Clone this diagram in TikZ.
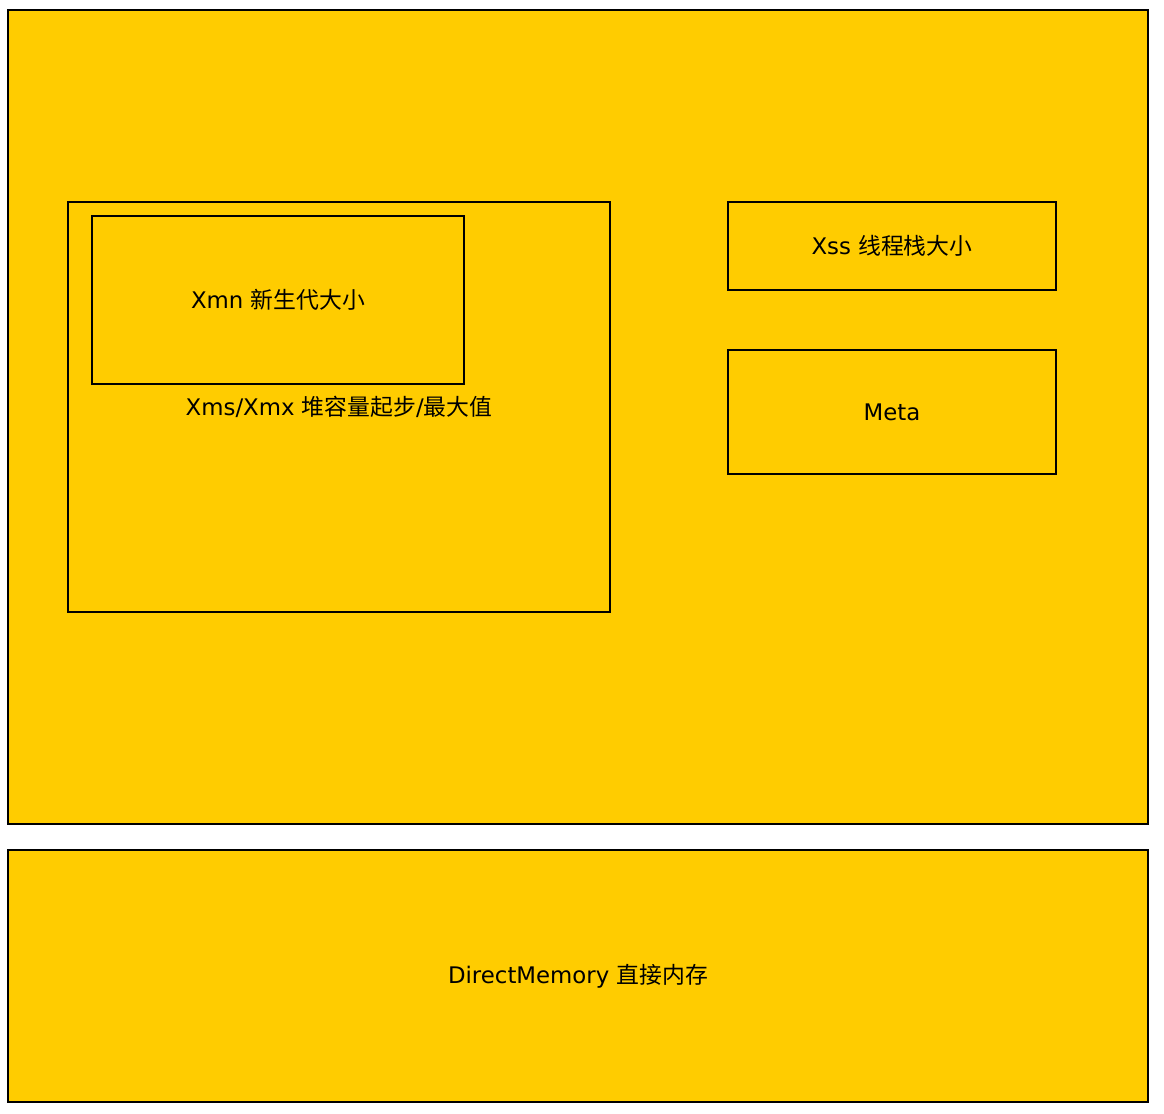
\documentclass[tikz,border=0pt]{standalone}
\usepackage{fontspec}
\setmainfont{DejaVu Sans}
\newfontfamily\cjk{Noto Sans CJK SC}
\usepackage{xcolor}
\definecolor{sunflower}{RGB}{255,204,0}
\usepackage{tikz}
\tikzset{
    membox/.style={draw=black, fill=sunflower, line width=0.8pt, inner sep=0pt,
        font=\fontsize{13}{15}\selectfont}
}

\begin{document}
\begin{tikzpicture}[x=0.02cm, y=-0.02cm]
                \useasboundingbox (0,0) rectangle (1164,1114);
                \node [membox, minimum width=22.8cm, minimum height=16.28cm] (jvm) at (578,417) {};
                \node [membox, minimum width=22.8cm, minimum height=5.04cm] (direct) at (578,976) {DirectMemory {\cjk 直接内存}};
                \node [membox, minimum width=10.84cm, minimum height=8.2cm] (heap) at (339,407) {Xms/Xmx {\cjk 堆容量起步}/{\cjk 最大值}};
                \node [membox, minimum width=7.44cm, minimum height=3.36cm] (young) at (278,300) {Xmn {\cjk 新生代大小}};
                \node [membox, minimum width=6.56cm, minimum height=1.76cm] (stack) at (892,246) {Xss {\cjk 线程栈大小}};
                \node [membox, minimum width=6.56cm, minimum height=2.48cm] (meta) at (892,412) {Meta};
            \end{tikzpicture}
\end{document}
